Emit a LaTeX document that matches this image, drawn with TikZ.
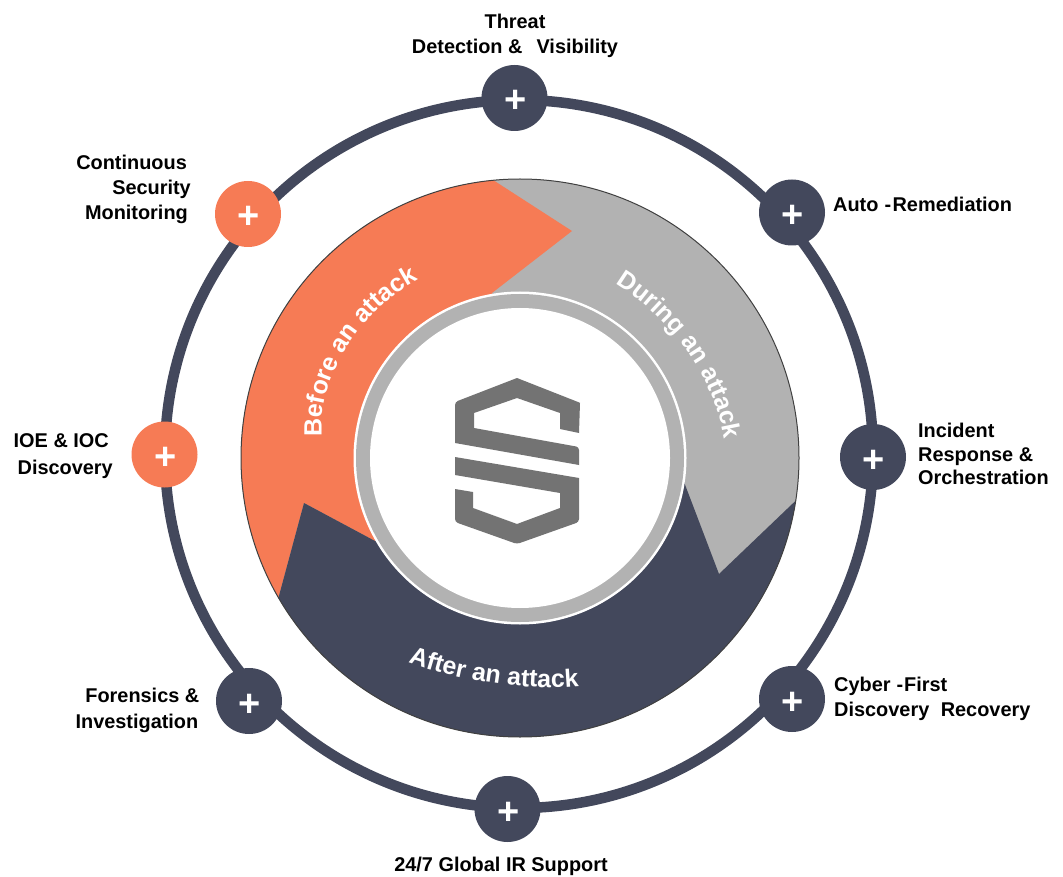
\documentclass[tikz,border=0pt]{standalone}
\usepackage{fontspec}
\setmainfont{Liberation Sans}
\usetikzlibrary{decorations.text}
\definecolor{navy}{HTML}{43485C}
\definecolor{coral}{HTML}{F67B55}
\definecolor{silver}{HTML}{B2B2B2}
\definecolor{logo}{HTML}{737373}
\newcommand{\lblfont}{\fontsize{19.9}{25}\selectfont\bfseries}
\newcommand{\arcfont}{\fontsize{25}{30}\selectfont\bfseries}
\newcommand{\plusmark}{\kern2pt\raisebox{-15pt}[0pt][0pt]{+}}
\tikzset{
  hub/.style={circle,fill=navy,minimum size=66pt,inner sep=0pt,text=white,font=\fontsize{38}{38}\selectfont\bfseries},
  hubhot/.style={hub,fill=coral},
  lbl/.style={inner sep=0pt,text=black,font=\lblfont},
  arctext/.style={decorate,decoration={text along path,text align=center,text color=white,text={|\arcfont|#1}}}
}
\begin{document}
\begin{tikzpicture}[x=1pt,y=-1pt]
\useasboundingbox (0,0) rectangle (1063,877);
\coordinate (c) at (520,458);
% outer ring
\draw[navy,line width=10.5pt] (519,454) circle[radius=354pt];
% disc
\fill[silver] (c) circle[radius=279pt];
\begin{scope}
  \clip (c) circle[radius=279pt];
  \fill[coral] (476,169) -- (572,231) -- (492,293) -- (c) -- (375,541) -- (304,503) -- (273,618) -- (150,618) -- (150,169) -- cycle;
  \fill[navy] (c) -- (375,541) -- (304,503) -- (273,618) -- (273,770) -- (810,770) -- (810,487) -- (719,574) -- (684,482) -- cycle;
\end{scope}
\draw[black!75,line width=1pt] (c) circle[radius=279pt];
% centre
\fill[white] (c) circle[radius=166.5pt];
\fill[silver] (c) circle[radius=164pt];
\fill[white] (c) circle[radius=150pt];
% logo
\fill[logo] (517,378) -- (578,402) -- (580,403) -- (579,433) -- (560,429) -- (560,413) -- (517,398) -- (474,413) -- (474,428) [rounded corners=3pt] -- (579,447) -- (579,465) [sharp corners] -- (579,465) -- (455,443) [rounded corners=3pt] -- (455,402) [sharp corners] -- cycle;
\fill[logo] (455,457) -- (579,478) [rounded corners=3pt] -- (579,522) -- (517,544) -- (455,522) [sharp corners] -- (455,489) -- (473,492) -- (473,508) -- (517,524) -- (560,508) -- (560,493) -- (455,475) -- cycle;
% arc labels
\coordinate (b1) at (322,436);
\coordinate (b2) at (318,370);
\coordinate (b3) at (366,308);
\coordinate (b4) at (418,280);
\path[arctext=Before an attack] (b1) .. controls (b2) and (b3) .. (b4);
\coordinate (d1) at (613,282);
\coordinate (d2) at (665,312);
\coordinate (d3) at (715,375);
\coordinate (d4) at (725,442);
\path[arctext=During an attack] (d1) .. controls (d2) and (d3) .. (d4);
\coordinate (a1) at (407,662);
\coordinate (a2) at (450,678);
\coordinate (a3) at (520,692);
\coordinate (a4) at (580,686);
\path[arctext=After an attack] (a1) .. controls (a2) and (a3) .. (a4);
% hubs
\node[hub] (threat) at (514.5,98) {\plusmark};
\node[hub] (auto) at (792,212.5) {\plusmark};
\node[hub] (incident) at (873,457) {\plusmark};
\node[hub] (cyber) at (792,699) {\plusmark};
\node[hub] (global) at (507.5,809) {\plusmark};
\node[hub] (forensics) at (249,701) {\plusmark};
\node[hubhot] (ioe) at (164.5,454.5) {\plusmark};
\node[hubhot] (monitor) at (248,214) {\plusmark};
% labels
\node[lbl,align=center] (tthreat) at (515,36) {Threat\\Detection \&\kern14pt Visibility};
\node[lbl,anchor=west] (tauto) at (833,204) {Auto\kern6pt-\kern1.5pt Remediation};
\node[lbl,anchor=west,align=left] (tincident) at (918,454) {Incident\\[-1.5pt]Response \&\\[-1.5pt]Orchestration};
\node[lbl,anchor=west,align=left] (tcyber) at (834,699) {Cyber\kern6pt-\kern1pt First\\Discovery\kern11.5pt Recovery};
\node[lbl] (tglobal) at (501,866) {24/7 Global IR Support};
\node[lbl,anchor=east,align=right] (tforensics) at (199.5,710) {Forensics \&\\[1pt]Investigation\kern1pt};
\node[lbl,align=right,anchor=east] (tioe) at (113,456) {IOE \& IOC\kern4pt\\[2pt]Discovery};
\node[lbl,align=right,anchor=east] (tmonitor) at (191,189) {Continuous\kern4pt\\Security\\Monitoring\kern3pt};
\end{tikzpicture}
\end{document}
